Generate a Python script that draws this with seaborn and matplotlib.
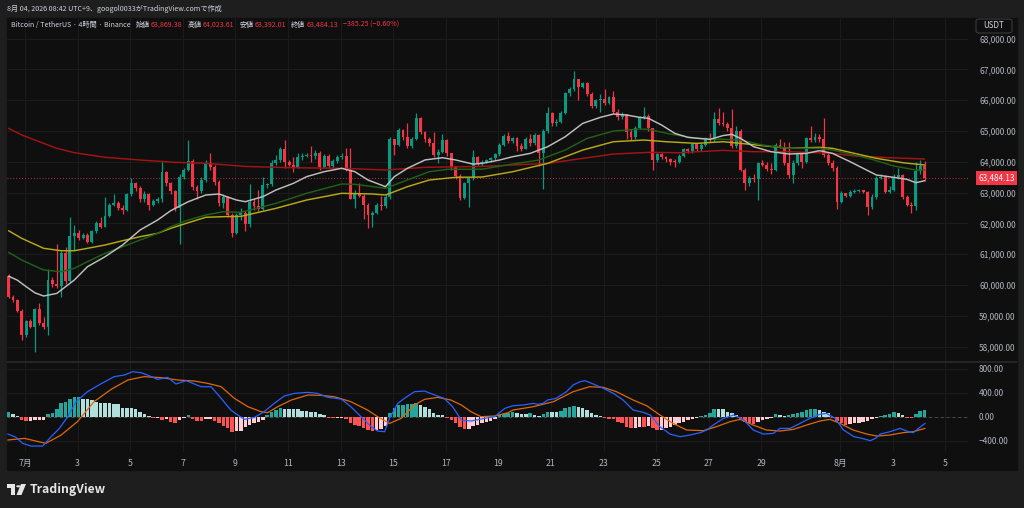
import numpy as np
import seaborn as sns
import matplotlib.pyplot as plt
import matplotlib.transforms as mtransforms
from matplotlib.patches import Rectangle, FancyBboxPatch, Polygon, Circle
from matplotlib.lines import Line2D

W, H = 1024, 508

# 4h candles, Jun 30 09:00 -> Aug 4 05:00 (UTC+9)
first_open = 60300
closes = [59620, 59500, 59170, 58380, 58830, 58640, 59210, 58760, 58630, 60160,
          60030, 59960, 61050, 60130, 61600, 61700, 61520, 61620, 61400, 61750,
          62000, 61900, 62230, 62600, 62660, 62510, 62430, 62950, 63300, 63140,
          62780, 62950, 62600, 62720, 62780, 63680, 63300, 63060, 62490, 63520,
          63730, 64040, 63190, 63060, 63410, 63950, 63820, 63350, 62650, 62850,
          62280, 61700, 62270, 62350, 61980, 62700, 62550, 62480, 63250, 63280,
          63950, 64060, 64410, 64000, 63900, 63830, 64150, 64200, 64230, 64200,
          64300, 63820, 64200, 63860, 64030, 64170, 64200, 63750, 62790, 63000,
          62900, 62600, 62270, 62350, 62600, 62550, 62870, 64730, 64550, 65030,
          64790, 64520, 64730, 65430, 64980, 64740, 64620, 64220, 64330, 64710,
          64270, 63820, 63550, 62810, 63300, 63460, 64170, 63950, 64000, 64060,
          64110, 64250, 64540, 64830, 64680, 64760, 64500, 64420, 64730, 64600,
          64870, 64270, 65000, 65590, 65250, 65300, 65590, 66220, 66350, 66690,
          66420, 66550, 66200, 65820, 66000, 66040, 65920, 66110, 65630, 65440,
          65550, 64980, 64790, 65090, 65440, 65500, 65090, 64060, 64240, 64144,
          64080, 64000, 63990, 64190, 64400, 64360, 64570, 64400, 64540, 64760,
          64700, 65380, 65270, 65230, 65085, 64520, 65000, 63750, 63300, 63480,
          63430, 63950, 63890, 63760, 63720, 64560, 64490, 63970, 63570, 63970,
          64250, 64000, 64760, 64710, 64790, 64750, 64220, 63970, 63790, 62705,
          62975, 62890, 63030, 63060, 63080, 63010, 62520, 62870, 63480, 63520,
          63030, 63100, 63520, 63570, 62870, 62600, 62560, 63700, 63869.38, 63484.13]
highs = [60350, 59680, 59540, 59240, 58870, 58900, 59260, 59430, 58950, 60520,
         60250, 61330, 61100, 61240, 62220, 61950, 61780, 61700, 61680, 61800,
         62080, 62220, 62870, 62650, 62950, 62740, 62600, 63000, 63460, 63350,
         63200, 63050, 63000, 62780, 62850, 63980, 63700, 63350, 63100, 63600,
         63800, 64710, 64100, 63250, 63500, 64050, 64270, 63900, 63400, 62950,
         62900, 62350, 62350, 62500, 62400, 63270, 62800, 63100, 63520, 63300,
         64060, 64220, 64490, 64710, 64050, 64150, 64300, 64300, 64300, 64500,
         64380, 64350, 64250, 64250, 64100, 64230, 64300, 64440, 64440, 63100,
         63300, 62950, 62650, 62400, 62650, 62900, 62950, 64800, 64750, 65100,
         65050, 65270, 64800, 65590, 65460, 65000, 64800, 64980, 64400, 64900,
         64750, 64300, 63850, 63600, 63350, 63500, 64380, 64200, 64050, 64100,
         64150, 64300, 64600, 64900, 64980, 64800, 64800, 64600, 64800, 64900,
         64950, 64900, 65050, 65780, 65630, 65380, 65650, 66280, 66420, 66950,
         66700, 66600, 66600, 66250, 66050, 66190, 66350, 66150, 66300, 65700,
         65600, 65560, 65050, 65150, 65500, 65790, 65550, 65100, 64300, 64300,
         64200, 64120, 64100, 64250, 64450, 64450, 64620, 64600, 64600, 64800,
         64950, 65600, 65730, 65600, 65300, 65710, 65150, 65050, 63800, 63550,
         63600, 64000, 64050, 64000, 63950, 64600, 64730, 64650, 64630, 64050,
         64300, 64280, 64800, 65170, 64950, 64900, 65410, 64300, 64050, 63850,
         63050, 63000, 63080, 63120, 63130, 63100, 63050, 62950, 63550, 63600,
         63560, 63200, 63600, 63800, 63620, 62920, 62700, 64000, 64058, 64023.61]
lows = [59580, 59450, 59120, 58215, 58300, 58600, 57820, 58700, 58580, 58380,
        59950, 59900, 59620, 60050, 60100, 61130, 61450, 61480, 61350, 61350,
        61700, 61850, 61880, 62200, 62550, 62450, 62300, 62400, 62900, 63050,
        62700, 62700, 62450, 62580, 62650, 62700, 63200, 62950, 62400, 61330,
        63450, 63700, 63100, 62800, 63000, 63350, 63750, 63250, 62550, 62500,
        62200, 61550, 61650, 62100, 61750, 61900, 62450, 62400, 62450, 63150,
        63200, 63900, 64000, 63790, 63850, 63680, 63800, 64050, 64150, 64000,
        64100, 63750, 63800, 63800, 63800, 63950, 64100, 63700, 62780, 62510,
        62850, 62130, 61840, 61900, 62300, 62450, 62500, 62800, 64220, 64500,
        64700, 64450, 64450, 64700, 64900, 64650, 64500, 64150, 63950, 64300,
        64200, 63750, 63450, 62750, 62800, 62540, 63400, 63900, 63850, 63950,
        64000, 64050, 64200, 64500, 64600, 64600, 64350, 64350, 64400, 64500,
        64550, 63850, 63120, 64950, 65150, 65150, 65250, 65550, 66150, 66300,
        66000, 66380, 66150, 65750, 65750, 65600, 65850, 65880, 65550, 65350,
        65400, 64730, 64700, 64750, 65050, 65400, 65000, 63730, 64000, 64100,
        64000, 63900, 63830, 63950, 64150, 64300, 64300, 64350, 64350, 64500,
        64650, 64650, 65200, 65150, 65000, 64450, 64450, 63700, 63080, 63200,
        63350, 62760, 63850, 63700, 63600, 63700, 64450, 63900, 63480, 63300,
        63900, 63800, 63950, 64650, 64650, 64650, 64150, 63900, 63700, 62480,
        62650, 62850, 62850, 63000, 63020, 62980, 62290, 62480, 62800, 63450,
        62980, 63000, 63050, 63450, 62800, 62550, 62330, 62450, 63600, 63392.01]

# moving averages (candle index, price)
fast_idx = [0, 2, 4, 6, 8, 11, 15, 18, 22, 26, 30, 34, 37, 41, 45, 48, 52, 54, 58, 61,
            65, 68, 72, 76, 79, 82, 86, 88, 91, 95, 99, 102, 106, 108, 112, 115, 119, 123, 127, 131,
            135, 138, 141, 144, 146, 149, 152, 155, 160, 163, 165, 167, 170, 174, 178, 182, 185, 188, 192, 195,
            198, 202, 205, 207, 209]
fast_val = [60290, 60160, 59950, 59750, 59645, 59730, 60165, 60596, 60920, 61300,
            61787, 62112, 62414, 62706, 62923, 62955, 62760, 62706, 62868, 63085,
            63302, 63518, 63680, 63789, 63680, 63410, 63193, 63518, 63789, 64060,
            64133, 64060, 63925, 63949, 64057, 64165, 64273, 64490, 64814, 65247,
            65442, 65550, 65518, 65442, 65410, 65193, 64923, 64793, 64728, 64850,
            64891, 64761, 64490, 64328, 64253, 64274, 64361, 64274, 64004, 63788,
            63571, 63495, 63430, 63322, 63387]
mid_idx = [0, 3, 8, 12, 15, 18, 22, 26, 30, 34, 37, 41, 45, 49, 53, 61, 68, 76, 79, 86,
           91, 96, 100, 108, 115, 121, 127, 132, 138, 144, 146, 151, 157, 163, 167, 172, 178, 185, 188, 193,
           197, 202, 207, 209]
mid_val = [61063, 60813, 60489, 60435, 60544, 60760, 61030, 61245, 61462, 61680,
           61894, 62111, 62274, 62381, 62360, 62653, 62978, 63280, 63270, 63140,
           63410, 63680, 63756, 63760, 63927, 64057, 64382, 64760, 64998, 65063,
           65052, 64901, 64760, 64730, 64707, 64545, 64437, 64437, 64382, 64220,
           64080, 63863, 63733, 63733]
slow_idx = [0, 3, 8, 12, 15, 18, 22, 26, 30, 34, 37, 41, 45, 49, 53, 61, 68, 76, 83, 86,
            91, 96, 102, 108, 115, 123, 131, 138, 145, 150, 157, 163, 167, 178, 185, 188, 193, 198, 204, 209]
slow_val = [61764, 61517, 61193, 61115, 61115, 61193, 61300, 61440, 61570, 61680,
            61842, 62024, 62200, 62220, 62230, 62490, 62760, 62978, 62956, 62923,
            63193, 63410, 63497, 63506, 63678, 63949, 64382, 64652, 64706, 64652,
            64598, 64652, 64599, 64437, 64469, 64437, 64274, 64112, 63971, 63896]
long_idx = [0, 3, 7, 11, 15, 22, 30, 38, 45, 54, 64, 76, 86, 95, 108, 123, 131, 138, 146, 153,
            163, 170, 178, 188, 193, 201, 209]
long_val = [65087, 64870, 64652, 64438, 64296, 64146, 64058, 63983, 63951, 63850,
            63810, 63789, 63734, 63821, 63850, 63949, 64111, 64252, 64306, 64295,
            64370, 64328, 64328, 64274, 64188, 64134, 64090]

# MACD pane
macd_hist = [83, 40, 5, -60, -75, -72, -55, -55, -50, 40,
             66, 130, 230, 250, 290, 320, 325, 300, 290, 270,
             250, 230, 225, 220, 215, 210, 150, 150, 145, 120,
             80, 40, 15, -20, -15, -50, -30, -80, -100, -55,
             -25, 25, -30, -65, -70, -45, -30, -65, -110, -150,
             -190, -250, -245, -235, -170, -140, -110, -80, -50, 30,
             70, 110, 140, 135, 130, 125, 120, 100, 90, 80,
             70, 40, 20, -20, -25, -20, -15, -40, -100, -130,
             -160, -190, -215, -235, -225, -200, -160, 60, 150, 190,
             200, 210, 215, 230, 190, 165, 120, 60, 30, 20,
             -20, -60, -110, -170, -210, -200, -160, -130, -110, -90,
             -70, -40, 20, 50, 60, 70, 60, 50, 45, 55,
             20, 15, 40, 85, 80, 75, 100, 140, 165, 180,
             165, 140, 110, 55, 28, 5, -15, -40, -45, -80,
             -110, -165, -195, -190, -165, -170, -160, -195, -220, -215,
             -195, -165, -140, -110, -85, -55, -40, -28, 15, 30,
             55, 135, 130, 120, 80, 65, 28, -45, -85, -110,
             -125, -85, -55, -40, -17, 40, 30, 10, 25, 45,
             55, 80, 110, 120, 128, 110, 80, 55, -25, -70,
             -110, -138, -120, -110, -100, -85, -65, -40, -18, 15,
             28, 40, 70, 55, 25, -15, -25, 45, 95, 110]
macd_idx = [-0.2, 1.7, 3.2, 5.1, 7.8, 9.7, 11.6, 13.5, 15.4, 18,
            21, 24.1, 26.4, 28.3, 30.2, 31.7, 34, 36.3, 38.2, 40.5,
            42.4, 43.9, 46.2, 48.5, 50.7, 52.3, 53.8, 56.1, 58.3, 60.6,
            62.9, 65.2, 68.3, 70.5, 72.8, 75.9, 78.1, 80.4, 82.7, 84.2,
            85.8, 86.9, 88.8, 90.3, 92.6, 94.9, 97.2, 99.4, 101.3, 103.3,
            105.5, 108.6, 110.9, 113.2, 115.1, 117.4, 119.7, 120.8, 121.9, 123,
            124.9, 127.3, 128.8, 130.4, 131.5, 133.4, 135.7, 138, 140.2, 142.5,
            144.8, 146.4, 148.6, 150.9, 153.2, 155.5, 157.8, 159.3, 160.8, 163.1,
            165.4, 167.6, 169.9, 172.2, 174.5, 176, 178.3, 180.6, 182.8, 185.1,
            186.6, 188.6, 190.5, 192.9, 194.7, 196.6, 197.8, 198.9, 201.1, 203.4,
            205.3, 206.4, 207.6, 209.1]
macd_val = [-287, -343, -442, -487, -487, -332, -194, 0, 249, 415,
            543, 665, 692, 747, 731, 692, 620, 653, 543, 598,
            543, 498, 498, 305, 111, 28, -44, -11, 83, 221,
            343, 387, 404, 387, 321, 293, 166, 0, -166, -238,
            -249, -28, 221, 304, 415, 426, 360, 304, 166, -55,
            -72, -28, 0, 138, 182, 194, 221, 205, 221, 277,
            304, 415, 526, 581, 598, 543, 471, 387, 277, 111,
            72, 28, -166, -288, -332, -304, -265, -221, -138, -28,
            28, -44, -221, -288, -277, -194, -194, -111, -28, 39,
            55, -28, -221, -332, -360, -398, -360, -288, -249, -194,
            -249, -265, -194, -111]
signal_idx = [-0.2, 3.6, 8.5, 12, 15.7, 19.5, 23.4, 27.2, 30.9, 34.8,
              38.6, 42.4, 45.4, 48.5, 51.5, 54.6, 57.6, 59.1, 61.4, 64.5,
              68.3, 71.3, 74.3, 78.1, 81.9, 84.2, 86.9, 89.6, 92.6, 94.9,
              97.9, 100.9, 103.3, 105.5, 107.8, 110.9, 113.9, 115.1, 119.7, 124.3,
              128.8, 132.6, 135.7, 138.7, 142.5, 145.6, 148.6, 151.6, 154.7, 158.5,
              161.5, 164.6, 166.9, 169.9, 172.9, 176, 179.1, 182.1, 185.1, 187.4,
              189.7, 192.7, 195.8, 198.1, 201.1, 204.1, 206.4, 209.1]
signal_val = [-387, -360, -442, -304, -83, 249, 454, 609, 665, 648,
              609, 592, 554, 498, 305, 166, 83, 66, 166, 276,
              360, 354, 332, 249, 111, 0, -111, -28, 194, 288,
              321, 277, 194, 83, 0, 11, 66, 111, 166, 249,
              415, 498, 487, 415, 277, 182, 28, -111, -221, -232,
              -166, -83, -44, -138, -221, -238, -210, -138, -72, -44,
              -111, -221, -288, -321, -304, -265, -249, -194]

# date axis: days after Jul 1
tick_days = [0, 2, 4, 6, 8, 10, 12, 14, 16, 18, 20, 22, 24, 26, 28, 31, 33, 35]
tick_labels = ['7月', '3', '5', '7', '9', '11', '13', '15', '17', '19', '21', '23',
               '25', '27', '29', '8月', '3', '5']
price_ticks = list(range(58000, 68001, 1000))
macd_ticks = [-400, 0, 400, 800]

BG = '#0f0f0f'
FRAME = '#1e1e1e'
GRID = '#1b1b1b'
TXT = '#b2b5be'
HEAD = '#d1d4dc'
UP = '#089981'
DN = '#f23645'

sns.set_theme(style='dark', rc={'axes.facecolor': BG, 'figure.facecolor': FRAME})
plt.rcParams['font.family'] = ['Noto Sans CJK JP', 'DejaVu Sans']


def px_box(x0, y0, x1, y1):
    return [x0 / W, 1 - y1 / H, (x1 - x0) / W, (y1 - y0) / H]


fig = plt.figure(figsize=(W / 100, H / 100), dpi=100)
fig.patches.append(Rectangle((7 / W, 1 - 470 / H), 1010 / W, 452 / H,
                             transform=fig.transFigure, color=BG, zorder=-2))

ax = fig.add_axes(px_box(7, 18, 968, 361))
axm = fig.add_axes(px_box(7, 362, 968, 452))

# candles
n = len(closes)
idx = np.arange(n)
c = np.array(closes)
o = np.r_[first_open, c[:-1]]
col = np.where(c >= o, UP, DN)
ax.vlines(idx, lows, highs, colors=col, linewidth=0.9, zorder=3)
ax.bar(idx, np.maximum(np.abs(c - o), 25), bottom=np.minimum(o, c), width=0.66,
       color=col, linewidth=0, zorder=4)

# moving averages
for xs, ys, colr in [(long_idx, long_val, '#a31414'),
                     (slow_idx, slow_val, '#b7aa16'),
                     (mid_idx, mid_val, '#1f6118'),
                     (fast_idx, fast_val, '#bfbfbf')]:
    sns.lineplot(x=xs, y=ys, ax=ax, color=colr, linewidth=1.05, errorbar=None, zorder=5)

last = closes[-1]
ax.axhline(last, color=DN, lw=0.7, ls=(0, (1, 2)), alpha=0.8, zorder=2)
trans = mtransforms.blended_transform_factory(ax.transAxes, ax.transData)
ax.text((996.5 - 7) / 961, last, f'{last:,.2f}', transform=trans, ha='center', va='center',
        fontsize=5.8, color='white', clip_on=False, zorder=10,
        bbox=dict(boxstyle='square,pad=0.3', fc=DN, ec='none'))

# MACD
hist_col = []
prev = 0
for h in macd_hist:
    if h >= 0:
        hist_col.append('#26a69a' if h > prev else '#b2dfdb')
    else:
        hist_col.append('#ff5252' if h < prev else '#ffcdd2')
    prev = h
axm.axhline(0, color='#4a4a4a', lw=0.7, ls=(0, (3, 3)), zorder=1)
axm.bar(idx, macd_hist, width=0.8, color=hist_col, linewidth=0, zorder=2)
sns.lineplot(x=signal_idx, y=signal_val, ax=axm, color='#e0680a', linewidth=0.9, errorbar=None, zorder=3)
sns.lineplot(x=macd_idx, y=macd_val, ax=axm, color='#2962ff', linewidth=0.9, errorbar=None, zorder=4)

tick_pos = [3.75 + 6 * d for d in tick_days]
for a in (ax, axm):
    a.set_xlim(-0.36, 218.9)
    a.set_xticks(tick_pos)
    a.grid(True, color=GRID, linewidth=0.8)
    a.set_axisbelow(True)
    a.yaxis.tick_right()
    a.set_xlabel('')
    a.set_ylabel('')
    for s in a.spines.values():
        s.set_visible(False)

ax.set_ylim(57537, 68666)
ax.set_yticks(price_ticks, [f'{v:,.2f}' for v in price_ticks])
ax.tick_params(axis='x', labelbottom=False, length=0)
ax.tick_params(axis='y', length=0, pad=8, labelsize=6, colors=TXT)

axm.set_ylim(-586, 908)
axm.set_yticks(macd_ticks, [f'{v:,.2f}'.replace('-', '\u2212') for v in macd_ticks])
axm.set_xticks(tick_pos, tick_labels)
axm.tick_params(axis='x', length=0, pad=5, labelsize=6.3, colors=TXT)
axm.tick_params(axis='y', length=0, pad=8, labelsize=6, colors=TXT)

# pane separator
fig.add_artist(Line2D([7 / W, 1017 / W], [1 - 361.5 / H] * 2, color='#2a2a2a', lw=1.2))

# USDT box
fig.patches.append(FancyBboxPatch((976 / W, 1 - 33 / H), 36 / W, 14 / H,
                                  boxstyle='round,pad=0,rounding_size=0.004',
                                  transform=fig.transFigure, fc=BG, ec='#3a3a3a', lw=0.8, zorder=5))
fig.text(994 / W, 1 - 26 / H, 'USDT', ha='center', va='center', fontsize=5.8, color=HEAD, zorder=6)

# header lines
fig.text(7 / W, 1 - 9 / H, '8月 04, 2026 08:42 UTC+9、googol0033がTradingView.comで作成',
         ha='left', va='center', fontsize=5.1, color=HEAD)
o_last = closes[-2]
chg = closes[-1] - closes[-2]
items = [('Bitcoin / TetherUS · 4時間 · Binance', HEAD, 5),
         ('始値', HEAD, 1), (f'{o_last:,.2f}', DN, 5),
         ('高値', HEAD, 1), (f'{highs[-1]:,.2f}', DN, 5),
         ('安値', HEAD, 1), (f'{lows[-1]:,.2f}', DN, 5),
         ('終値', HEAD, 1), (f'{closes[-1]:,.2f}', DN, 5),
         (f'{chg:+,.2f} ({chg / o_last * 100:+.2f}%)'.replace('-', '\u2212'), DN, 0)]
renderer = fig.canvas.get_renderer()
xcur = 11
for s, colr, gap in items:
    t = fig.text(xcur / W, 1 - 25 / H, s, ha='left', va='center', fontsize=5.1, color=colr)
    xcur = t.get_window_extent(renderer).x1 + gap

# TradingView logo
def fp(pts):
    return [(x / W, 1 - y / H) for x, y in pts]

fig.patches.append(Polygon(fp([(7, 484), (15, 484), (15, 495), (11, 495), (11, 488), (7, 488)]),
                           closed=True, transform=fig.transFigure, fc='#e6e6e6', ec='none'))
fig.patches.append(Circle((18.3 / W, 1 - 486.3 / H), 2.1 / W, transform=fig.transFigure,
                          fc='#e6e6e6', ec='none'))
fig.patches.append(Polygon(fp([(21, 484), (26, 484), (21.5, 495), (16.5, 495)]),
                           closed=True, transform=fig.transFigure, fc='#e6e6e6', ec='none'))
fig.text(30 / W, 1 - 489.5 / H, 'TradingView', ha='left', va='center', fontsize=8.8,
         fontweight='bold', color='#e6e6e6')

fig.savefig('out.png', dpi=100, facecolor=FRAME)
